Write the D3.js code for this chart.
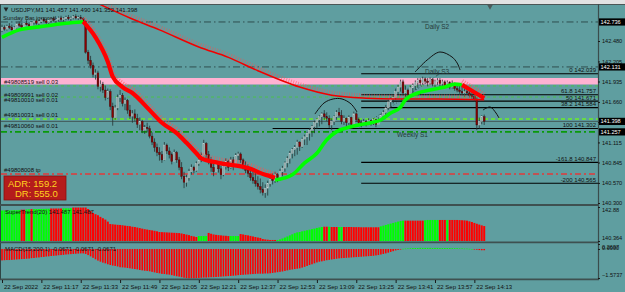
<!DOCTYPE html>
<html>
<head>
<meta charset="utf-8">
<script src="https://cdn.jsdelivr.net/npm/d3@7"></script>
<style>
  html, body { margin: 0; padding: 0; background: #5f9ea0; }
  svg { display: block; font-family: "Liberation Sans", Arial, sans-serif; }
</style>
</head>
<body>
<div id="chart"></div>
<script>
// USDJPY M1 bars, 22 Sep 11:01 .. 14:17
const firstOpen = 142.62;
const closes = [
  142.66,142.64,142.68,142.66,142.63,142.66,142.71,142.69,142.67,142.72,
  142.70,142.68,142.73,142.75,142.72,142.74,142.77,142.75,142.73,142.76,
  142.78,142.76,142.77,142.79,142.77,142.78,142.80,142.78,142.79,142.81,
  142.79,142.80,142.78,142.74,142.33,142.22,142.15,142.03,142.05,141.87,
  141.90,141.82,141.72,141.80,141.60,141.45,141.58,141.72,141.75,141.64,
  141.68,141.55,141.47,141.50,141.44,141.36,141.40,141.28,141.32,141.30,
  141.20,141.12,141.05,140.98,140.95,140.88,141.08,141.00,140.95,140.86,
  140.98,140.88,140.78,140.66,140.58,140.64,140.72,140.78,140.74,140.83,
  140.88,140.94,141.10,140.95,140.86,140.78,140.72,140.82,140.76,140.68,
  140.79,140.86,140.78,140.88,140.80,140.94,140.96,140.88,140.79,140.74,
  140.70,140.64,140.60,140.56,140.52,140.48,140.44,140.50,140.56,140.62,
  140.60,140.68,140.64,140.72,140.77,140.84,140.90,140.97,141.02,141.05,
  141.12,141.06,141.16,141.19,141.24,141.28,141.33,141.38,141.42,141.46,
  141.50,141.46,141.44,141.35,141.40,141.46,141.52,141.48,141.40,141.44,
  141.38,141.45,141.36,141.50,141.42,141.38,141.36,141.40,141.36,141.41,
  141.37,141.42,141.36,141.43,141.48,141.52,141.58,141.66,141.70,141.72,
  141.80,141.86,141.93,141.78,141.82,141.76,141.85,141.88,141.92,141.95,
  141.92,141.97,141.94,141.92,141.96,141.90,141.93,141.95,141.91,141.93,
  141.88,141.92,141.86,141.91,141.84,141.82,141.80,141.78,141.80,141.78,
  141.75,141.73,141.70,141.35,141.40,141.46,141.40
];
const highs = [
  142.70,142.69,142.70,142.72,142.70,142.68,142.73,142.74,142.72,142.73,
  142.76,142.73,142.74,142.78,142.77,142.76,142.79,142.80,142.78,142.77,
  142.80,142.81,142.79,142.81,142.82,142.80,142.82,142.83,142.81,142.83,
  142.84,142.82,142.83,142.80,142.76,142.36,142.28,142.19,142.10,142.08,
  141.95,141.93,141.88,141.84,141.83,141.65,141.62,141.76,141.82,141.78,
  141.72,141.70,141.62,141.55,141.56,141.50,141.45,141.42,141.35,141.38,
  141.34,141.25,141.17,141.10,141.05,141.00,141.12,141.10,141.05,140.98,
  141.02,141.00,140.92,140.85,140.72,140.68,140.76,140.82,140.80,140.86,
  140.92,140.98,141.15,141.12,141.00,140.92,140.85,140.86,140.84,140.80,
  140.82,140.90,140.88,140.92,140.92,140.97,140.99,140.98,140.90,140.86,
  140.82,140.78,140.72,140.70,140.66,140.63,140.58,140.55,140.60,140.66,
  140.70,140.72,140.70,140.76,140.80,140.86,140.93,141.00,141.04,141.08,
  141.15,141.13,141.18,141.22,141.26,141.31,141.35,141.41,141.44,141.48,
  141.52,141.55,141.52,141.48,141.44,141.48,141.55,141.58,141.55,141.48,
  141.45,141.48,141.46,141.53,141.52,141.45,141.42,141.43,141.42,141.44,
  141.42,141.44,141.43,141.45,141.50,141.55,141.62,141.69,141.72,141.75,
  141.84,141.89,141.96,141.96,141.88,141.84,141.88,141.91,141.95,141.98,
  141.98,142.00,141.99,141.98,141.99,141.98,141.96,141.98,141.98,141.96,
  141.95,141.95,141.94,141.95,141.92,141.90,141.88,141.86,141.84,141.86,
  141.83,141.80,141.77,141.72,141.45,141.48,141.49
];
const lows = [
  142.60,142.62,142.62,142.64,142.62,142.60,142.65,142.67,142.64,142.66,
  142.69,142.65,142.67,142.70,142.70,142.69,142.72,142.73,142.71,142.70,
  142.73,142.74,142.72,142.74,142.75,142.74,142.76,142.76,142.75,142.77,
  142.77,142.76,142.77,142.72,142.31,142.17,142.11,141.99,141.96,141.83,
  141.80,141.78,141.68,141.70,141.55,141.34,141.42,141.55,141.66,141.60,
  141.55,141.50,141.43,141.38,141.40,141.31,141.28,141.24,141.23,141.25,
  141.17,141.08,140.99,140.93,140.87,140.84,140.87,140.96,140.90,140.82,
  140.86,140.84,140.74,140.62,140.50,140.52,140.60,140.68,140.70,140.72,
  140.80,140.85,140.93,140.90,140.82,140.72,140.66,140.72,140.71,140.62,
  140.66,140.75,140.73,140.76,140.74,140.79,140.88,140.84,140.75,140.70,
  140.65,140.60,140.56,140.52,140.48,140.43,140.40,140.37,140.40,140.52,
  140.55,140.57,140.58,140.60,140.66,140.72,140.78,140.83,140.90,140.93,
  140.95,141.00,141.04,141.08,141.08,141.14,141.19,141.24,141.30,141.33,
  141.36,141.42,141.40,141.31,141.28,141.35,141.42,141.45,141.36,141.35,
  141.32,141.35,141.33,141.38,141.39,141.34,141.32,141.35,141.33,141.35,
  141.34,141.35,141.32,141.36,141.39,141.45,141.48,141.55,141.58,141.64,
  141.69,141.76,141.80,141.75,141.73,141.71,141.75,141.78,141.82,141.85,
  141.88,141.89,141.90,141.87,141.89,141.87,141.86,141.89,141.87,141.86,
  141.85,141.86,141.83,141.84,141.81,141.79,141.77,141.75,141.73,141.76,
  141.72,141.70,141.66,141.28,141.30,141.36,141.35
];

// supertrend line on the price chart (knots, boundary knots repeated)
const stBars  = [0,7,15,26,33, 33,38,43,45,49,53,60,65,71,75,79,81,88,100,107,111,
                 111,118,123,128,132,136,140,145,150,154,158,162,164,169,174,180,184,187, 187,192,196];
const stVals  = [142.53,142.63,142.67,142.72,142.74,
                 142.74,142.53,142.20,142.00,141.86,141.78,141.55,141.38,141.24,141.11,140.97,140.90,140.84,140.77,140.68,140.64,
                 140.61,140.68,140.84,140.97,141.15,141.26,141.31,141.35,141.38,141.42,141.51,141.59,141.69,141.78,141.82,141.86,141.90,141.89,
                 141.89,141.79,141.71];
const stTrend = ["up","up","up","up","up",
                 "dn","dn","dn","dn","dn","dn","dn","dn","dn","dn","dn","dn","dn","dn","dn","dn",
                 "up","up","up","up","up","up","up","up","up","up","up","up","up","up","up","up","up","up",
                 "dn","dn","dn"];

// long moving average
const maBars = [34,38,52,64,80,92,104,121,134,148,160,177,196];
const maVals = [143.06,143.00,142.79,142.63,142.40,142.26,142.08,141.86,141.75,141.71,141.70,141.70,141.69];

// SuperTrend(20) histogram window
const stHist = [
  142.62,142.63,142.62,142.64,142.63,142.65,142.64,142.66,142.68,142.68,
  142.70,142.71,142.72,142.72,142.73,142.73,142.74,142.74,142.75,142.75,
  142.77,142.77,142.77,142.77,142.77,142.78,142.78,142.78,142.79,142.84,
  142.84,142.84,142.84,142.84,142.84,142.73,142.58,142.44,142.35,142.27,
  142.15,142.05,141.95,141.80,141.62,141.60,141.58,141.56,141.55,141.53,
  141.50,141.48,141.46,141.42,141.40,141.36,141.32,141.28,141.24,141.21,
  141.18,141.15,141.12,141.08,141.03,141.02,141.01,141.00,140.99,140.98,
  140.97,140.96,140.95,140.92,140.88,140.84,140.80,140.74,140.70,140.66,
  140.73,140.73,140.73,140.73,140.96,140.90,140.85,140.82,140.80,140.78,
  140.76,140.75,140.73,140.73,140.73,140.73,140.73,140.88,140.85,140.81,
  140.78,140.74,140.70,140.66,140.62,140.59,140.51,140.48,140.46,140.44,
  140.44,140.44,140.44,140.48,140.55,140.62,140.70,140.78,140.86,140.94,
  141.00,141.03,141.08,141.12,141.16,141.20,141.24,141.28,141.33,141.37,
  141.40,141.42,141.42,141.42,141.40,141.40,141.40,141.40,141.40,141.40,
  141.40,141.40,141.40,141.39,141.39,141.39,141.38,141.38,141.38,141.38,
  141.38,141.38,141.38,141.38,141.45,141.50,141.55,141.60,141.65,141.70,
  141.75,141.80,141.84,141.87,141.87,141.87,141.87,141.87,141.87,141.87,
  141.87,141.87,141.90,141.92,141.92,141.92,141.92,141.92,141.92,141.92,
  141.92,141.92,141.92,141.92,141.92,141.92,141.91,141.90,141.89,141.87,
  141.82,141.77,141.70,141.64,141.58,141.52,141.47
];
const stRunStarts = [0,8,10,12,13,20,25,29,80,84,93,97,112,131,133,134,137,139,154,164,172,178,181,182];
const stRunColors = ["g","r","g","r","g","r","g","r","g","r","g","r","g","r","g","r","g","r","g","r","g","r","g","r"];

// MACD(15,200,1) window
const macd = [
  -0.62,-0.61,-0.60,-0.60,-0.59,-0.58,-0.57,-0.56,-0.55,-0.54,
  -0.53,-0.52,-0.50,-0.49,-0.47,-0.46,-0.44,-0.43,-0.41,-0.40,
  -0.38,-0.37,-0.36,-0.34,-0.33,-0.32,-0.30,-0.29,-0.28,-0.27,
  -0.26,-0.25,-0.24,-0.24,-0.27,-0.33,-0.40,-0.48,-0.56,-0.63,
  -0.69,-0.74,-0.78,-0.83,-0.87,-0.90,-0.92,-0.95,-0.99,-1.00,
  -1.01,-1.03,-1.05,-1.07,-1.09,-1.11,-1.14,-1.16,-1.18,-1.19,
  -1.21,-1.24,-1.27,-1.30,-1.32,-1.35,-1.36,-1.38,-1.39,-1.42,
  -1.45,-1.48,-1.50,-1.53,-1.56,-1.58,-1.59,-1.59,-1.59,-1.58,
  -1.57,-1.56,-1.55,-1.55,-1.54,-1.53,-1.53,-1.52,-1.51,-1.50,
  -1.49,-1.48,-1.47,-1.46,-1.45,-1.44,-1.42,-1.41,-1.40,-1.39,
  -1.38,-1.37,-1.36,-1.35,-1.34,-1.34,-1.34,-1.33,-1.33,-1.32,
  -1.30,-1.28,-1.26,-1.24,-1.22,-1.19,-1.16,-1.13,-1.11,-1.09,
  -1.07,-1.05,-1.01,-0.97,-0.92,-0.87,-0.83,-0.78,-0.73,-0.69,
  -0.67,-0.64,-0.61,-0.59,-0.57,-0.55,-0.53,-0.51,-0.50,-0.49,
  -0.48,-0.47,-0.46,-0.45,-0.44,-0.43,-0.42,-0.41,-0.40,-0.39,
  -0.38,-0.37,-0.35,-0.33,-0.30,-0.27,-0.24,-0.20,-0.16,-0.12,
  -0.08,-0.05,-0.02,0.01,0.02,0.03,0.04,0.05,0.05,0.05,
  0.06,0.06,0.06,0.06,0.06,0.05,0.06,0.06,0.05,0.05,
  0.05,0.05,0.05,0.04,0.04,0.04,0.03,0.03,0.02,0.02,
  0.01,0.00,-0.01,-0.04,-0.06,-0.07,-0.07
];

// levels and objects
const dailyPrices = [142.736, 142.131];
const dailyNames = ["Daily S2", "Daily S3"];
const weeklyPrice = 141.257;
const bidPrice = 141.398;
const fibNames = ["0", "61.8", "50", "38.2", "100", "-161.8", "-200"];
const fibPrices = [142.039, 141.757, 141.671, 141.584, 141.302, 140.847, 140.565];
const fibStartBars = [146, 146, 146, 146, 110, 146, 146];
const pinkBand = [141.982, 141.895];
const greenOrderPrices = [141.875, 141.726, 141.43];
const tpPrice = 140.69;
const orderLabels = ["#49808519 sell 0.03", "#49809991 sell 0.02", "#49810010 sell 0.01",
                     "#49810031 sell 0.01", "#49810060 sell 0.01", "#49808008 tp"];
const orderLabelPrices = [141.935, 141.76, 141.69, 141.48, 141.34, 140.75];
const boxPrices = [142.736, 142.131, 141.398, 141.257];

// hand drawn arcs [bar, price]
const arcs = [
  [[127.2,141.497],[130.9,141.646],[134.6,141.700],[138.2,141.700],[141.9,141.632],[144.3,141.524]],
  [[167.9,142.063],[172.8,142.224],[178.0,142.332],[182.9,142.265],[185.0,142.184],[186.2,142.090]],
  [[195.5,141.551],[198.4,141.592],[200.8,141.511],[202.0,141.444]]
];
const fibTrend = [[145, 141.302], [178, 142.039]];

// axes
const priceTicks = [142.480, 142.205, 141.935, 141.660, 141.390, 141.115, 140.845, 140.570, 140.300];
const stTicks = [142.88, 140.364];
const stTickLabels = ["142.88", "140.364"];
const macdTicks = [0.2697, 0, -1.5737];
const timeTickBars = [0,16,32,48,64,80,96,112,128,144,160,176,192];
const timeLabels = ["22 Sep 2022","22 Sep 11:17","22 Sep 11:33","22 Sep 11:49","22 Sep 12:05","22 Sep 12:21",
                    "22 Sep 12:37","22 Sep 12:53","22 Sep 13:09","22 Sep 13:25","22 Sep 13:41","22 Sep 13:57","22 Sep 14:13"];

const width = 625;
const height = 292;
const plotRight = 598;

const x = d3.scaleLinear().domain([0, 196]).range([2, 484.2]);
const y = d3.scaleLinear().domain([140.300, 142.480]).range([203, 41]);
const yST = d3.scaleLinear().domain([140.364, 142.88]).range([241, 207]);
const yMacd = d3.scaleLinear().domain([-1.5737, 0.2697]).range([278, 244]);

const svg = d3.select("#chart").append("svg")
    .attr("width", width)
    .attr("height", height);

svg.append("rect").attr("width", width).attr("height", height).attr("fill", "#5f9ea0");
svg.append("rect").attr("width", width).attr("height", 4).attr("fill", "#e2e2e2");

const defs = svg.append("defs");
defs.append("clipPath").attr("id", "clipMain")
    .append("rect").attr("x", 1).attr("y", 5).attr("width", plotRight - 1).attr("height", 199);

const main = svg.append("g").attr("clip-path", "url(#clipMain)");

function hline(price, x0, stroke, w, dash) {
  main.append("line")
      .attr("x1", x0).attr("x2", plotRight)
      .attr("y1", y(price)).attr("y2", y(price))
      .attr("stroke", stroke)
      .attr("stroke-width", w)
      .attr("stroke-dasharray", dash);
}

main.append("rect")
    .attr("x", 1).attr("width", plotRight - 1)
    .attr("y", y(pinkBand[0]))
    .attr("height", y(pinkBand[1]) - y(pinkBand[0]))
    .attr("fill", "#ffb2d2");

dailyPrices.forEach(p => hline(p, 1, "#2f4f4f", 1, "7,3,1.5,3"));
greenOrderPrices.forEach((p, i) => hline(p, 1, i < 2 ? "#4cc04c" : "#6cf028", i < 2 ? 1 : 1.6, i < 2 ? "3,3" : "4,3"));
hline(bidPrice, 1, "#3c4a4a", 0.8, null);
hline(weeklyPrice, 1, "#0a9a0a", 1.6, "6,3,2,3");
hline(tpPrice, 1, "#e23a3a", 1.6, "6,3,2,3");
fibPrices.forEach((p, i) => hline(p, x(fibStartBars[i]), "#000", 1.1, null));

main.append("path")
    .datum(fibTrend)
    .attr("d", d3.line().x(d => x(d[0])).y(d => y(d[1])))
    .attr("fill", "none")
    .attr("stroke", "#2a3a3a")
    .attr("stroke-width", 0.7)
    .attr("stroke-dasharray", "1,2");

// candles
const bars = closes.map((c, i) => ({
  i: i,
  o: i === 0 ? firstOpen : closes[i - 1],
  h: highs[i],
  l: lows[i],
  c: c
}));

main.selectAll(".wick")
    .data(bars)
    .enter()
    .append("line")
    .attr("x1", d => x(d.i)).attr("x2", d => x(d.i))
    .attr("y1", d => y(Math.max(d.h, d.o, d.c)))
    .attr("y2", d => y(Math.min(d.l, d.o, d.c)))
    .attr("stroke", "#243434")
    .attr("stroke-width", 0.8);

main.selectAll(".body")
    .data(bars)
    .enter()
    .append("rect")
    .attr("x", d => x(d.i) - 0.9)
    .attr("width", 1.8)
    .attr("y", d => y(Math.max(d.o, d.c)))
    .attr("height", d => Math.max(0.8, Math.abs(y(d.o) - y(d.c))))
    .attr("fill", d => d.c >= d.o ? "#8ea4a4" : "#8b0000")
    .attr("stroke", d => d.c >= d.o ? "#c3cfcf" : "#3a1010")
    .attr("stroke-width", 0.4);

const priceLine = d3.line()
    .x(d => x(d[0]))
    .y(d => y(d[1]))
    .curve(d3.curveMonotoneX);

// long MA with hatch
const maPts = maBars.map((b, i) => [b, maVals[i]]);
main.append("path")
    .datum(maPts)
    .attr("d", priceLine)
    .attr("transform", "translate(0,-2.5)")
    .attr("fill", "none")
    .attr("stroke", "#ff4a4a")
    .attr("stroke-opacity", 0.55)
    .attr("stroke-width", 4.5)
    .attr("stroke-dasharray", "0.8,1.7");
main.append("path")
    .datum(maPts)
    .attr("d", priceLine)
    .attr("fill", "none")
    .attr("stroke", "#f00000")
    .attr("stroke-width", 1.5);

// supertrend segments
const segs = [];
stBars.forEach((b, k) => {
  if (!segs.length || segs[segs.length - 1].t !== stTrend[k]) segs.push({ t: stTrend[k], pts: [] });
  segs[segs.length - 1].pts.push([b, stVals[k]]);
});

segs.forEach(s => {
  if (s.t === "dn") {
    main.append("path")
        .datum(s.pts)
        .attr("d", priceLine)
        .attr("transform", "translate(0,-3.5)")
        .attr("fill", "none")
        .attr("stroke", "#ff5050")
        .attr("stroke-opacity", 0.6)
        .attr("stroke-width", 5)
        .attr("stroke-dasharray", "1,1.5");
  }
  main.append("path")
      .datum(s.pts)
      .attr("d", priceLine)
      .attr("fill", "none")
      .attr("stroke", s.t === "up" ? "#00ff00" : "#ff0000")
      .attr("stroke-width", s.t === "up" ? 3.6 : 4.2)
      .attr("stroke-linejoin", "round");
});

// hand drawn arcs
arcs.forEach(a => {
  main.append("path")
      .datum(a)
      .attr("d", d3.line().x(d => x(d[0])).y(d => y(d[1])).curve(d3.curveCatmullRom))
      .attr("fill", "none")
      .attr("stroke", "#111")
      .attr("stroke-width", 1);
});

// labels on the price chart
const small = 6;
dailyPrices.forEach((p, i) => {
  main.append("text")
      .attr("x", 425)
      .attr("y", y(p) + 7)
      .attr("font-size", 6.5)
      .attr("fill", "#263a3a")
      .text(dailyNames[i]);
});
main.append("text")
    .attr("x", 397)
    .attr("y", y(weeklyPrice) + 5.5)
    .attr("font-size", 6.5)
    .attr("fill", "#263a3a")
    .text("Weekly S1");

fibPrices.forEach((p, i) => {
  main.append("text")
      .attr("x", 596)
      .attr("y", y(p) - 1.5)
      .attr("text-anchor", "end")
      .attr("font-size", small)
      .attr("fill", "#111")
      .text(fibNames[i] + " " + d3.format(".3f")(p));
});

orderLabels.forEach((t, i) => {
  main.append("text")
      .attr("x", 4)
      .attr("y", y(orderLabelPrices[i]) + 2)
      .attr("font-size", small)
      .attr("fill", "#111")
      .text(t);
});

main.append("text")
    .attr("x", 3).attr("y", 20)
    .attr("font-size", small)
    .attr("fill", "#1a1a1a")
    .text("Sunday Bar ignored");

svg.append("path")
    .attr("d", d3.symbol(d3.symbolTriangle, 10))
    .attr("transform", "translate(6,9) rotate(180)")
    .attr("fill", "#222");
svg.append("text")
    .attr("x", 11).attr("y", 12)
    .attr("font-size", small)
    .attr("fill", "#111")
    .text("USDJPY,M1  141.457 141.490 141.352 141.398");

svg.append("path")
    .attr("d", d3.symbol(d3.symbolTriangle, 14))
    .attr("transform", "translate(490,6.5) rotate(180)")
    .attr("fill", "#4a5a5a");

// ADR box
svg.append("rect")
    .attr("x", 4).attr("y", 176)
    .attr("width", 62).attr("height", 24)
    .attr("fill", "#b41c1c")
    .attr("stroke", "#8a1010")
    .attr("stroke-width", 0.8);
svg.append("text")
    .attr("x", 8).attr("y", 186.5)
    .attr("font-size", 9.5)
    .attr("fill", "#ffd21f")
    .text("ADR: 159.2");
svg.append("text")
    .attr("x", 15).attr("y", 197)
    .attr("font-size", 9.5)
    .attr("fill", "#ffd21f")
    .text("DR: 555.0");

// SuperTrend histogram
const runColor = i => {
  let c = stRunColors[0];
  stRunStarts.forEach((s, k) => { if (i >= s) c = stRunColors[k]; });
  return c === "g" ? "#00ff00" : "#ff0000";
};
svg.selectAll(".sthist")
    .data(stHist)
    .enter()
    .append("rect")
    .attr("x", (d, i) => x(i) - 1)
    .attr("width", 2)
    .attr("y", d => yST(d))
    .attr("height", d => yST(140.364) - yST(d))
    .attr("fill", (d, i) => runColor(i));

svg.append("text")
    .attr("x", 5).attr("y", 214)
    .attr("font-size", small)
    .attr("fill", "#111")
    .text("SuperTrend(20) 141.487 141.487");

// MACD histogram
svg.selectAll(".macd")
    .data(macd)
    .enter()
    .append("rect")
    .attr("x", (d, i) => x(i) - 0.8)
    .attr("width", 1.6)
    .attr("y", d => Math.min(yMacd(0), yMacd(d)))
    .attr("height", d => Math.max(0.6, Math.abs(yMacd(d) - yMacd(0))))
    .attr("fill", d => d >= 0 ? "#00ff00" : "#ff0000");

svg.append("text")
    .attr("x", 5).attr("y", 251)
    .attr("font-size", small)
    .attr("fill", "#111")
    .text("MACD(15,200,1) -0.0671 -0.0671 -0.0671");

// frame
const frame = svg.append("g").attr("fill", "none");
frame.append("line").attr("x1", 0).attr("x2", width).attr("y1", 4.5).attr("y2", 4.5)
    .attr("stroke", "#4c5656").attr("stroke-width", 1.2);
frame.append("line").attr("x1", 0.5).attr("x2", 0.5).attr("y1", 4).attr("y2", 280)
    .attr("stroke", "#2f4444").attr("stroke-width", 1);
frame.append("line").attr("x1", plotRight + 0.5).attr("x2", plotRight + 0.5).attr("y1", 4).attr("y2", 280)
    .attr("stroke", "#3a4c4c").attr("stroke-width", 1.2);
[205, 242.4, 279.3].forEach(v => {
  frame.append("line").attr("x1", 0).attr("x2", plotRight + 1).attr("y1", v).attr("y2", v)
      .attr("stroke", "#3e5050").attr("stroke-width", 1.8);
});

// axes
function styleAxis(g, size) {
  g.select(".domain").remove();
  g.selectAll(".tick line").attr("stroke", "#1a1a1a");
  g.selectAll(".tick text")
      .attr("font-size", size)
      .attr("font-family", "Liberation Sans, Arial, sans-serif")
      .attr("fill", "#111");
}

const yAxisG = svg.append("g")
    .attr("transform", `translate(${plotRight},0)`)
    .call(d3.axisRight(y).tickValues(priceTicks).tickFormat(d3.format(".3f")).tickSize(2).tickPadding(2));
styleAxis(yAxisG, 5.6);

const stAxisG = svg.append("g")
    .attr("transform", `translate(${plotRight},0)`)
    .call(d3.axisRight(yST).tickValues(stTicks).tickFormat((d, i) => stTickLabels[i]).tickSize(2).tickPadding(2));
styleAxis(stAxisG, 5.6);
stAxisG.selectAll(".tick text").attr("y", (d, i) => i === 0 ? 3 : -3);

const macdAxisG = svg.append("g")
    .attr("transform", `translate(${plotRight},0)`)
    .call(d3.axisRight(yMacd).tickValues(macdTicks).tickFormat(d3.format(".4f")).tickSize(2).tickPadding(2));
styleAxis(macdAxisG, 5.6);
macdAxisG.selectAll(".tick text").attr("y", (d, i) => [3, -1, -3][i]);

const xAxisG = svg.append("g")
    .attr("transform", "translate(0,280)")
    .call(d3.axisBottom(x).tickValues(timeTickBars).tickFormat((d, i) => timeLabels[i]).tickSize(3).tickPadding(1.5));
styleAxis(xAxisG, 6);
xAxisG.selectAll(".tick text").attr("text-anchor", "start").attr("x", 1.5);

// price boxes
boxPrices.forEach(p => {
  svg.append("rect")
      .attr("x", 599).attr("y", y(p) - 3.6)
      .attr("width", 26).attr("height", 7.2)
      .attr("fill", "#000");
  svg.append("text")
      .attr("x", 600.5).attr("y", y(p))
      .attr("dy", "0.34em")
      .attr("font-size", 5.6)
      .attr("fill", "#fff")
      .text(d3.format(".3f")(p));
});
</script>
</body>
</html>
